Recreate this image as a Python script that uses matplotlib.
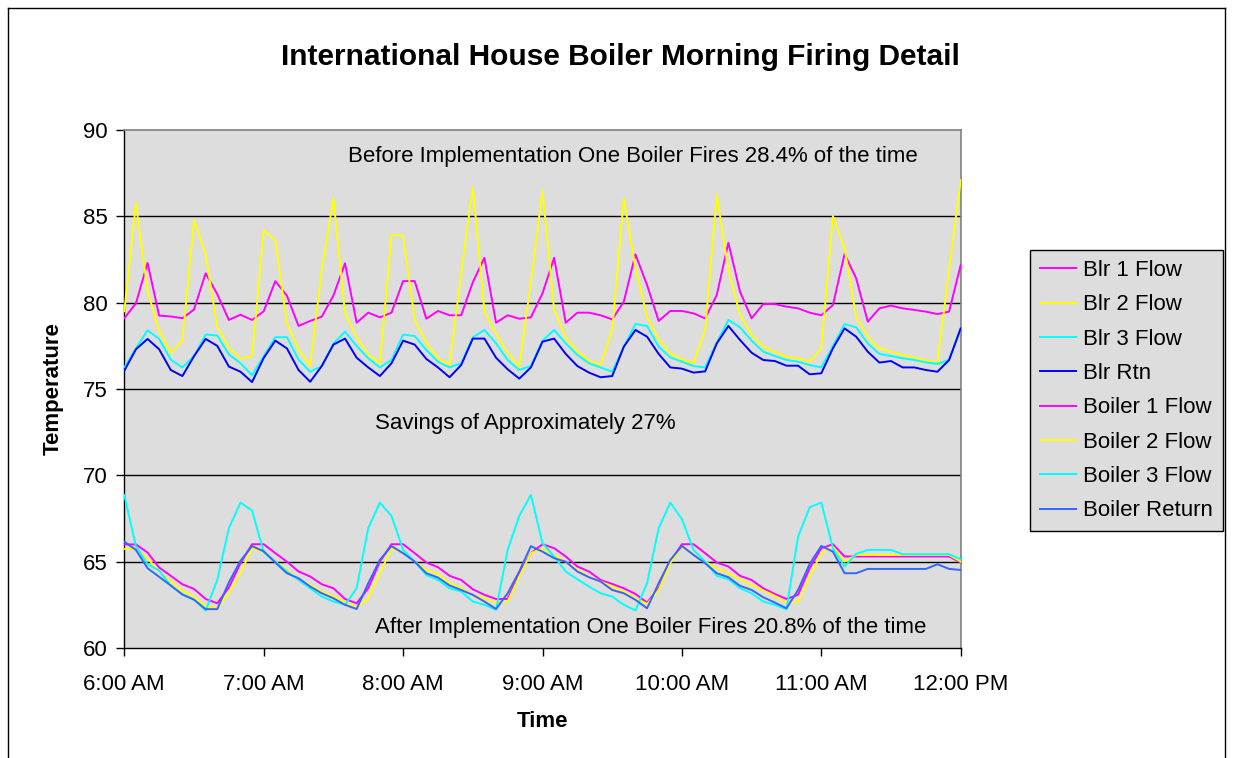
import numpy as np
import matplotlib
matplotlib.use("Agg")
import matplotlib.pyplot as plt
from matplotlib.lines import Line2D

plt.rcParams['font.family'] = ['Liberation Sans', 'DejaVu Sans']

# 5-minute samples from 6:00 AM to 12:00 PM (73 samples)
minutes = np.arange(0, 365, 5)
tick_minutes = [0, 60, 120, 180, 240, 300, 360]
tick_labels = ["6:00 AM", "7:00 AM", "8:00 AM", "9:00 AM", "10:00 AM", "11:00 AM", "12:00 PM"]

blr1_flow = [79.1, 79.96, 82.3, 79.25, 79.2, 79.1, 79.6, 81.7, 80.5, 79.0, 79.3, 79.0, 79.5, 81.25, 80.4, 78.65,
             78.94, 79.19, 80.41, 82.28, 78.84, 79.42, 79.15, 79.42, 81.25, 81.25, 79.07, 79.52, 79.27, 79.27,
             81.18, 82.6, 78.84, 79.27, 79.07, 79.15, 80.54, 82.6, 78.84, 79.42, 79.42, 79.27, 79.03, 80.06,
             82.8, 81.02, 78.94, 79.52, 79.52, 79.38, 79.09, 80.44, 83.47, 80.64, 79.09, 79.92, 79.92, 79.77,
             79.67, 79.42, 79.27, 79.86, 82.82, 81.41, 78.9, 79.67, 79.83, 79.67, 79.58, 79.48, 79.34, 79.48, 82.18]
blr2_flow = [79.5, 85.75, 80.7, 78.4, 77.1, 77.8, 84.8, 82.8, 78.6, 77.4, 76.76, 76.9, 84.2, 83.6, 78.8, 77.3,
             76.33, 81.9, 86.04, 79.4, 78.0, 77.0, 76.5, 83.9, 83.9, 79.0, 77.7, 76.8, 76.4, 81.7, 86.7, 79.5,
             78.2, 77.1, 76.3, 81.2, 86.5, 79.6, 77.99, 77.22, 76.64, 76.39, 78.42, 86.04, 82.0, 79.2, 77.88,
             77.07, 76.72, 76.49, 78.42, 86.24, 81.9, 79.29, 78.13, 77.45, 77.16, 76.87, 76.78, 76.58, 77.36,
             85.02, 83.15, 79.19, 78.03, 77.36, 77.16, 76.97, 76.81, 76.68, 76.53, 81.9, 87.1]
blr3_flow = [76.25, 77.35, 78.4, 77.9, 76.7, 76.25, 76.9, 78.15, 78.1, 77.0, 76.5, 75.8, 76.9, 78.0, 78.0, 76.7,
             76.0, 76.33, 77.64, 78.32, 77.49, 76.78, 76.25, 76.68, 78.15, 78.07, 77.26, 76.58, 76.25, 76.49,
             77.99, 78.42, 77.64, 76.68, 76.1, 76.33, 77.8, 78.42, 77.64, 76.97, 76.49, 76.25, 76.0, 77.45,
             78.76, 78.65, 77.45, 76.83, 76.58, 76.33, 76.25, 77.68, 79.0, 78.57, 77.8, 77.16, 76.91, 76.68,
             76.58, 76.39, 76.25, 77.49, 78.76, 78.57, 77.64, 77.03, 76.91, 76.78, 76.68, 76.54, 76.45, 76.68, 78.51]
blr_rtn = [76.06, 77.3, 77.9, 77.3, 76.1, 75.75, 76.9, 77.9, 77.5, 76.3, 76.0, 75.4, 76.8, 77.8, 77.35, 76.1,
           75.42, 76.33, 77.57, 77.92, 76.81, 76.25, 75.75, 76.49, 77.8, 77.57, 76.74, 76.25, 75.68, 76.39,
           77.92, 77.92, 76.81, 76.14, 75.6, 76.25, 77.74, 77.92, 77.03, 76.33, 75.95, 75.68, 75.75, 77.45,
           78.42, 78.03, 77.03, 76.25, 76.18, 75.95, 76.02, 77.64, 78.65, 77.84, 77.1, 76.68, 76.62, 76.35,
           76.35, 75.85, 75.91, 77.36, 78.51, 78.03, 77.16, 76.53, 76.62, 76.25, 76.25, 76.1, 76.0, 76.68, 78.51]

boiler1_flow = [66.0, 66.0, 65.53, 64.66, 64.18, 63.69, 63.42, 62.84, 62.59, 63.5, 64.91, 66.01, 66.01, 65.49,
                65.0, 64.43, 64.14, 63.69, 63.46, 62.84, 62.59, 63.46, 65.0, 66.01, 66.01, 65.49, 64.95, 64.68,
                64.18, 63.94, 63.4, 63.08, 62.84, 62.84, 64.33, 65.49, 66.01, 65.78, 65.3, 64.72, 64.43, 63.94,
                63.71, 63.46, 63.13, 62.63, 63.46, 65.0, 66.01, 66.01, 65.49, 64.95, 64.72, 64.18, 63.94, 63.46,
                63.13, 62.84, 63.08, 64.62, 65.78, 66.01, 65.3, 65.3, 65.3, 65.3, 65.3, 65.3, 65.3, 65.3, 65.3,
                65.3, 64.95]
boiler2_flow = [65.74, 65.74, 65.2, 64.43, 63.85, 63.31, 62.98, 62.4, 62.3, 63.17, 64.33, 65.78, 65.58, 65.0,
                64.52, 63.98, 63.65, 63.27, 62.98, 62.69, 62.34, 62.88, 64.33, 65.78, 65.53, 65.0, 64.52, 64.29,
                63.75, 63.46, 63.08, 62.88, 62.63, 62.69, 64.14, 65.49, 65.78, 65.39, 65.0, 64.52, 64.14, 63.85,
                63.56, 63.27, 62.88, 62.55, 63.36, 64.91, 65.87, 65.39, 65.0, 64.62, 64.33, 63.98, 63.65, 63.33,
                63.02, 62.63, 62.69, 64.14, 65.49, 65.87, 65.0, 65.39, 65.39, 65.39, 65.39, 65.39, 65.39, 65.39,
                65.39, 65.39, 65.0]
boiler3_flow = [68.86, 65.9, 64.85, 64.48, 63.6, 63.1, 62.8, 62.17, 63.94, 66.94, 68.42, 67.96, 65.55, 65.0,
                64.43, 63.94, 63.46, 62.98, 62.69, 62.5, 63.46, 66.94, 68.42, 67.65, 65.68, 65.0, 64.23, 63.94,
                63.46, 63.27, 62.69, 62.5, 62.21, 65.68, 67.65, 68.87, 66.07, 65.3, 64.43, 63.98, 63.56, 63.17,
                62.98, 62.5, 62.17, 63.75, 66.94, 68.42, 67.46, 65.68, 65.0, 64.18, 63.98, 63.46, 63.17, 62.69,
                62.5, 62.24, 66.45, 68.15, 68.42, 65.78, 64.72, 65.45, 65.68, 65.68, 65.68, 65.43, 65.43, 65.43,
                65.43, 65.43, 65.14]
boiler_return = [66.16, 65.68, 64.62, 64.12, 63.62, 63.1, 62.8, 62.25, 62.25, 63.8, 65.05, 65.9, 65.6, 64.95,
                 64.33, 64.04, 63.56, 63.17, 62.88, 62.5, 62.26, 63.75, 65.1, 65.9, 65.49, 65.0, 64.33, 64.08,
                 63.62, 63.36, 63.08, 62.69, 62.26, 63.17, 64.43, 65.9, 65.58, 65.2, 65.0, 64.43, 64.1, 63.85,
                 63.36, 63.17, 62.79, 62.3, 63.75, 65.1, 65.91, 65.39, 64.91, 64.33, 64.1, 63.6, 63.36, 62.94,
                 62.63, 62.3, 63.36, 64.87, 65.91, 65.58, 64.33, 64.33, 64.58, 64.58, 64.58, 64.58, 64.58, 64.58,
                 64.85, 64.58, 64.52]

series = [
    ("Blr 1 Flow", blr1_flow, "#FF00FF"),
    ("Blr 2 Flow", blr2_flow, "#FFFF00"),
    ("Blr 3 Flow", blr3_flow, "#00FFFF"),
    ("Blr Rtn", blr_rtn, "#0000FF"),
    ("Boiler 1 Flow", boiler1_flow, "#FF00FF"),
    ("Boiler 2 Flow", boiler2_flow, "#FFFF00"),
    ("Boiler 3 Flow", boiler3_flow, "#00FFFF"),
    ("Boiler Return", boiler_return, "#3366FF"),
]

W, H = 1233, 758
fig = plt.figure(figsize=(W / 100, H / 100), dpi=100)
fig.patch.set_facecolor("white")

L, R, T, B = 124.3, 960.7, 130, 648
ax = fig.add_axes([L / W, 1 - B / H, (R - L) / W, (B - T) / H])
ax.set_facecolor("#DDDDDD")

for name, vals, col in series:
    ax.plot(minutes, vals, color=col, lw=1.4, label=name, zorder=3)

ax.set_xlim(0, 360)
ax.set_ylim(60, 90)
ax.set_yticks([60, 65, 70, 75, 80, 85, 90])
ax.set_xticks(tick_minutes)
ax.set_xticklabels(tick_labels)
ax.tick_params(axis="both", direction="out", length=6, width=1, color="black",
               labelsize=16)
ax.tick_params(axis="x", pad=13)
ax.tick_params(axis="y", pad=6)
for yv in [65, 70, 75, 80, 85]:
    ax.axhline(yv, color="black", lw=1.0, zorder=2)

for s in ["top", "right"]:
    ax.spines[s].set_color("#808080")
    ax.spines[s].set_linewidth(1.2)
for s in ["left", "bottom"]:
    ax.spines[s].set_color("black")
    ax.spines[s].set_linewidth(1.0)

ax.set_xlabel("Time", fontsize=16, fontweight="bold", labelpad=11)
ax.set_ylabel("Temperature", fontsize=16, fontweight="bold", labelpad=14)

ax.text(0.2675, 0.948, "Before Implementation One Boiler Fires 28.4% of the time",
        transform=ax.transAxes, fontsize=16, ha="left", va="center", zorder=4)
ax.text(0.2998, 0.434, "Savings of Approximately 27%",
        transform=ax.transAxes, fontsize=16, ha="left", va="center", zorder=4)
ax.text(0.2998, 0.0405, "After Implementation One Boiler Fires 20.8% of the time",
        transform=ax.transAxes, fontsize=16, ha="left", va="center", zorder=4)

fig.text(0.503, 1 - 57 / H, "International House Boiler Morning Firing Detail",
         fontsize=21.5, fontweight="bold", ha="center", va="center")

leg = fig.legend(loc="upper left", bbox_to_anchor=(1030 / W, 1 - 250 / H), borderaxespad=0,
                 fontsize=16, frameon=True, fancybox=False, edgecolor="black",
                 facecolor="#DDDDDD", framealpha=1, handlelength=1.6, handletextpad=0.35,
                 labelspacing=0.60, borderpad=0.45)
leg.get_frame().set_linewidth(1.0)

# outer chart border
for (x0, y0, x1, y1) in [(8, 8, 8, H), (8, 8, 1225, 8), (1225, 8, 1225, H)]:
    fig.add_artist(Line2D([x0 / W, x1 / W], [1 - y0 / H, 1 - y1 / H], color="black", lw=1.0,
                          transform=fig.transFigure))

fig.savefig("out.png", dpi=100, facecolor="white")
